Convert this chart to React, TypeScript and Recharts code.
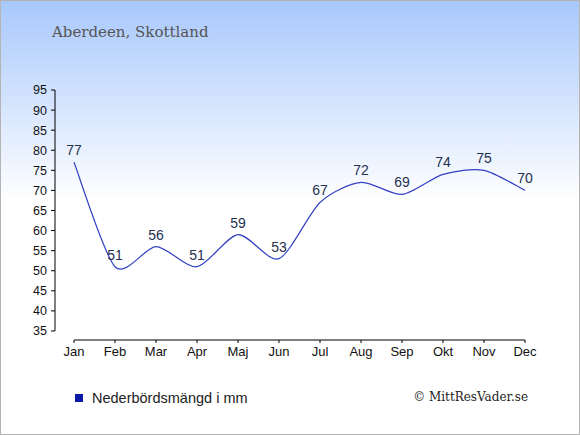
import { LineChart, Line, XAxis, YAxis, LabelList } from "recharts";

const months = ["Jan", "Feb", "Mar", "Apr", "Maj", "Jun", "Jul", "Aug", "Sep", "Okt", "Nov", "Dec"];
const rainfall = [77, 51, 56, 51, 59, 53, 67, 72, 69, 74, 75, 70];
const yTicks = [35, 40, 45, 50, 55, 60, 65, 70, 75, 80, 85, 90, 95];

const data = months.map((m, i) => ({ month: m, mm: rainfall[i] }));

// cardinal-style curve, so peaks can sit between months like in the original
const TENSION = 0.2;

/* eslint-disable @typescript-eslint/no-explicit-any */
const smoothCurve = (ctx: any) => {
  let xs: number[] = [];
  let ys: number[] = [];
  const k = (1 - TENSION) / 6;
  return {
    areaStart() {},
    areaEnd() {},
    lineStart() {
      xs = [];
      ys = [];
    },
    point(x: number, y: number) {
      xs.push(+x);
      ys.push(+y);
    },
    lineEnd() {
      const n = xs.length;
      if (!n) return;
      ctx.moveTo(xs[0], ys[0]);
      for (let i = 0; i < n - 1; i++) {
        const a = Math.max(i - 1, 0);
        const b = Math.min(i + 2, n - 1);
        ctx.bezierCurveTo(
          xs[i] + (xs[i + 1] - xs[a]) * k,
          ys[i] + (ys[i + 1] - ys[a]) * k,
          xs[i + 1] - (xs[b] - xs[i]) * k,
          ys[i + 1] - (ys[b] - ys[i]) * k,
          xs[i + 1],
          ys[i + 1]
        );
      }
    },
  };
};
/* eslint-enable @typescript-eslint/no-explicit-any */

const sans = "'Liberation Sans', Arial, sans-serif";
const serif = "'DejaVu Serif', Georgia, serif";

export default function App() {
  return (
    <div
      style={{
        position: "relative",
        width: 580,
        height: 435,
        boxSizing: "border-box",
        border: "1px solid #b4b4b4",
        background: "linear-gradient(to bottom, #a8c8fc 0px, #ffffff 200px)",
        fontFamily: sans,
      }}
    >
      <style>{`body{margin:0}`}</style>

      {/* Title */}
      <div
        style={{
          position: "absolute",
          left: 51,
          top: 22,
          fontFamily: serif,
          fontSize: 15,
          color: "#555",
        }}
      >
        Aberdeen, Skottland
      </div>

      <div style={{ position: "absolute", left: -1, top: -1 }}>
        <LineChart
          width={580}
          height={435}
          data={data}
          margin={{ top: 90, right: 55, left: 0, bottom: 65 }}
        >
          <XAxis
            dataKey="month"
            scale="point"
            padding={{ left: 19, right: 0 }}
            height={30}
            axisLine={{ stroke: "#000", strokeDasharray: "0 19 451 60" }}
            tickLine={{ stroke: "#000" }}
            tickSize={3}
            tickMargin={4}
            tick={{ fontSize: 13, fill: "#111", fontFamily: sans }}
          />
          <YAxis
            domain={[32.75, 95]}
            ticks={yTicks}
            allowDataOverflow
            width={55}
            axisLine={{ stroke: "#000", strokeDasharray: "241 60" }}
            tickLine={{ stroke: "#000" }}
            tickSize={4}
            tickMargin={4}
            tick={{ fontSize: 12.5, fill: "#111", fontFamily: sans }}
          />
          <Line
            type={smoothCurve}
            dataKey="mm"
            stroke="#3340c4"
            strokeWidth={1.2}
            dot={false}
            isAnimationActive={false}
          >
            <LabelList
              dataKey="mm"
              position="top"
              offset={7}
              style={{ fontSize: 14, fill: "#243050", fontFamily: sans }}
            />
          </Line>
        </LineChart>
      </div>

      {/* Legend */}
      <div
        style={{
          position: "absolute",
          left: 74,
          top: 389,
          display: "flex",
          alignItems: "center",
          gap: 9,
          fontSize: 14.5,
          color: "#222",
        }}
      >
        <span style={{ width: 8, height: 8, background: "#0a1aa8", display: "inline-block" }}></span>
        <span>Nederbördsmängd i mm</span>
      </div>
      <div
        style={{
          position: "absolute",
          right: 51,
          top: 389,
          fontFamily: serif,
          fontSize: 12,
          color: "#222",
        }}
      >
        © MittResVader.se
      </div>
    </div>
  );
}
